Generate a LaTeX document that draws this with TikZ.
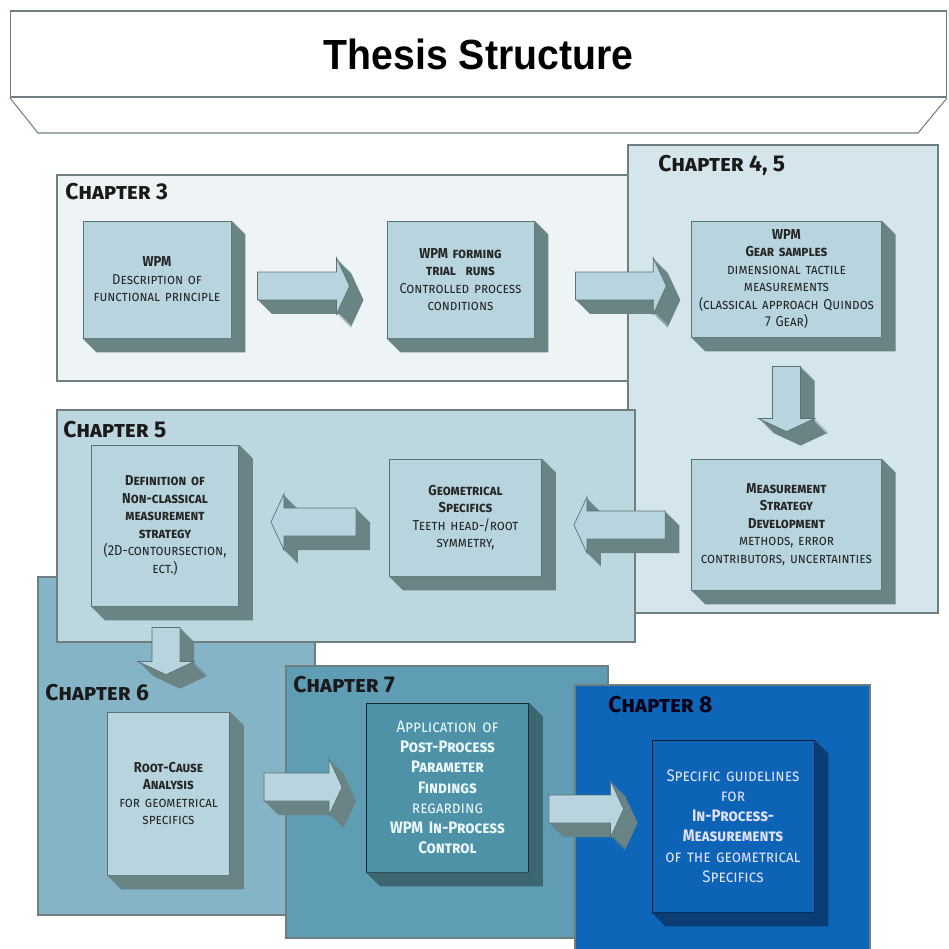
\documentclass[tikz,border=0pt]{standalone}
\usepackage{fontspec}
\setmainfont{Fira Sans}
\newfontfamily\titlefont{Liberation Sans}[FakeStretch=0.93]
\newfontfamily\boxfont{Fira Sans}[FakeStretch=0.9]
\usepackage{tikz}
\usetikzlibrary{positioning,calc}

\definecolor{chthree}{HTML}{EEF4F6}
\definecolor{chfour}{HTML}{D4E5EB}
\definecolor{chfive}{HTML}{BDD7E0}
\definecolor{chsix}{HTML}{84B4C5}
\definecolor{chseven}{HTML}{5E9DB3}
\definecolor{cheight}{HTML}{0E66B8}
\definecolor{frameline}{HTML}{6F7F80}
\definecolor{boxface}{HTML}{B8D5DF}
\definecolor{boxline}{HTML}{5B7173}
\definecolor{boxside}{HTML}{6A8486}
\definecolor{tealface}{HTML}{4E92A8}
\definecolor{tealside}{HTML}{3C6670}
\definecolor{blueface}{HTML}{0D63B6}
\definecolor{blueside}{HTML}{0A3D74}
\definecolor{labeltext}{HTML}{1A1A1A}

\tikzstyle{banner}=[draw=frameline, fill=white, line width=0.6pt]
\tikzstyle{chapter frame}=[draw=frameline, line width=0.6pt]
\tikzstyle{chapter label}=[anchor=base west, inner sep=0pt, text=labeltext,
  font=\fontsize{13}{15}\selectfont\bfseries\scshape]
\tikzstyle{block}=[draw=boxline, fill=boxface, line width=0.5pt, align=center,
  inner sep=2pt, text=black!85, font=\boxfont\fontsize{8.2}{10}\selectfont\scshape]
\tikzstyle{arrow face}=[fill=boxface, draw=boxline, line width=0.4pt]
\tikzstyle{arrow side}=[fill=boxside]

\newcommand{\blocknode}[3][]{
  \node [block, #1] (#2) {#3}
}
\newcommand{\extrude}[2][boxside]{
  \fill [#1] (#2.north east) -- ++(14,14) -- ($(#2.south east)+(14,14)$)
    -- ($(#2.south west)+(14,14)$) -- (#2.south west) -- (#2.south east) -- cycle
}
\newcommand{\flowarrow}[3][]{
  \coordinate (fh) at ($(#3)!0.26cm!(#2)$);
  \coordinate (f1) at ($(#2)!0.28cm!90:(#3)$);
  \coordinate (f2) at ($(fh)!0.28cm!90:(#3)$);
  \coordinate (f3) at ($(fh)!0.56cm!90:(#3)$);
  \coordinate (f5) at ($(fh)!0.56cm!-90:(#3)$);
  \coordinate (f6) at ($(fh)!0.28cm!-90:(#3)$);
  \coordinate (f7) at ($(#2)!0.28cm!-90:(#3)$);
  \foreach \off in {1,...,14}
    \fill [arrow side] ($(f1)+(\off,\off)$) -- ($(f2)+(\off,\off)$) -- ($(f3)+(\off,\off)$)
      -- ($(#3)+(\off,\off)$) -- ($(f5)+(\off,\off)$) -- ($(f6)+(\off,\off)$)
      -- ($(f7)+(\off,\off)$) -- cycle;
  \filldraw [arrow face, #1] (f1) -- (f2) -- (f3) -- (#3) -- (f5) -- (f6) -- (f7) -- cycle;
}

\begin{document}
\begin{tikzpicture}[x=0.02cm, y=-0.02cm]
        \useasboundingbox (0,0) rectangle (949,949);

        % title banner
        \draw[banner] (10,98) -- (38,133) -- (918,133) -- (947,98);
        \node[banner, minimum width=18.74cm, minimum height=1.72cm,
              font=\titlefont\fontsize{24}{27}\selectfont\bfseries] (title) at (478.5,54) {Thesis Structure};

        % chapter frames
        \draw[chapter frame, fill=chthree] (57,175) rectangle (628,381);
        \node[chapter label] (l3) at (65,200) {Chapter 3};
        \draw[chapter frame, fill=chfour] (628,145) rectangle (938,613);
        \node[chapter label] (l45) at (658,172) {Chapter 4, 5};
        \draw[chapter frame, fill=chsix] (38,577) rectangle (315,915);
        \node[chapter label] (l6) at (45,700) {Chapter 6};
        \draw[chapter frame, fill=chfive] (57,410) rectangle (635,642);
        \node[chapter label] (l5) at (63,437) {Chapter 5};
        \draw[chapter frame, fill=chseven] (286,666) rectangle (608,938);
        \node[chapter label] (l7) at (293,692) {Chapter 7};
        \draw[chapter frame, fill=cheight] (575,685) rectangle (870,955);
        \node[chapter label, text=black!90!blue] (l8) at (608,712) {Chapter 8};

        % chapter 3
        \blocknode[at={(157,279.5)}, minimum width=2.96cm, minimum height=2.34cm, text width=2.8cm]{wpm}
          {{\bfseries WPM}\\ Description of\\ functional principle};
        \extrude{wpm};
        \blocknode[at={(460.5,279.5)}, minimum width=2.94cm, minimum height=2.34cm, text width=2.8cm]{forming}
          {{\bfseries WPM forming\\ trial~~runs}\\ Controlled process\\ conditions};
        \extrude{forming};

        % chapter 4, 5
        \blocknode[at={(786.5,279)}, minimum width=3.74cm, minimum height=2.32cm, text width=3.65cm]{gear}
          {{\bfseries WPM\\ Gear samples}\\ dimensional tactile\\ measurements\\ (classical approach Quindos\\ 7 Gear)};
        \extrude{gear};
        \blocknode[at={(786.5,524.5)}, minimum width=3.74cm, minimum height=2.62cm, text width=3.65cm]{measure}
          {{\bfseries Measurement\\ Strategy\\ Development}\\ methods, error\\ contributors, uncertainties};
        \extrude{measure};

        % chapter 5
        \blocknode[at={(465.5,517.5)}, minimum width=3.02cm, minimum height=2.34cm, text width=2.9cm]{geom}
          {{\bfseries Geometrical\\ Specifics}\\ Teeth head-/root\\ symmetry,};
        \extrude{geom};
        \blocknode[at={(165,525.5)}, minimum width=2.92cm, minimum height=3.22cm, text width=2.8cm]{definition}
          {{\bfseries Definition of\\ Non-classical\\ measurement\\ strategy}\\ (2D-contoursection,\\ ect.)};
        \extrude{definition};

        % chapter 6
        \blocknode[at={(168.5,793.5)}, minimum width=2.42cm, minimum height=3.26cm, text width=2.3cm]{root}
          {{\bfseries Root-Cause\\ Analysis}\\ for geometrical\\ specifics};
        \extrude{root};

        % chapter 7
        \blocknode[at={(447.5,787.5)}, minimum width=3.22cm, minimum height=3.38cm, text width=3.1cm,
                   fill=tealface, draw=black!60!tealside, text=white!92!cyan,
                   font=\boxfont\fontsize{9.5}{11.5}\selectfont\scshape]{application}
          {Application of\\ {\bfseries Post-Process\\ Parameter\\ Findings}\\ regarding\\ {\bfseries WPM In-Process\\ Control}};
        \extrude[tealside]{application};

        % chapter 8
        \blocknode[at={(733,826)}, minimum width=3.2cm, minimum height=3.44cm, text width=3.1cm,
                   fill=blueface, draw=black!60!blueside, text=white!88!blue,
                   font=\boxfont\fontsize{9.5}{11.5}\selectfont\scshape]{guidelines}
          {Specific guidelines\\ for\\ {\bfseries In-Process-\\ Measurements}\\ of the geometrical\\ Specifics};
        \extrude[blueside]{guidelines};

        % arrow ends
        \coordinate (a1s) at ($(wpm.east)+(26,6.5)$);
        \coordinate (a1e) at ($(forming.west)+(-37,6.5)$);
        \coordinate (a2s) at ($(forming.east)+(41,6.5)$);
        \coordinate (a2e) at ($(gear.west)+(-25,7)$);
        \coordinate (a3s) at ($(gear.south)+(0,29)$);
        \coordinate (a3e) at ($(measure.north)+(0,-27)$);
        \coordinate (a4s) at ($(measure.west)+(-26,0.5)$);
        \coordinate (a4e) at ($(geom.east)+(32,7.5)$);
        \coordinate (a5s) at ($(geom.west)+(-33,4.5)$);
        \coordinate (a5e) at ($(definition.east)+(32,-3.5)$);
        \coordinate (a6s) at ($(definition.south)+(1,21)$);
        \coordinate (a6e) at ($(root.north)+(-2.5,-37)$);
        \coordinate (a7s) at ($(root.east)+(34,-6.5)$);
        \coordinate (a7e) at ($(application.west)+(-24,-0.5)$);
        \coordinate (a8s) at ($(application.east)+(20,21.5)$);
        \coordinate (a8e) at ($(guidelines.west)+(-28,-17)$);

        \flowarrow{a1s}{a1e};
        \flowarrow{a2s}{a2e};
        \flowarrow{a3s}{a3e};
        \flowarrow{a4s}{a4e};
        \flowarrow{a5s}{a5e};
        \flowarrow{a6s}{a6e};
        \flowarrow{a7s}{a7e};
        \flowarrow{a8s}{a8e};

\end{tikzpicture}
\end{document}
